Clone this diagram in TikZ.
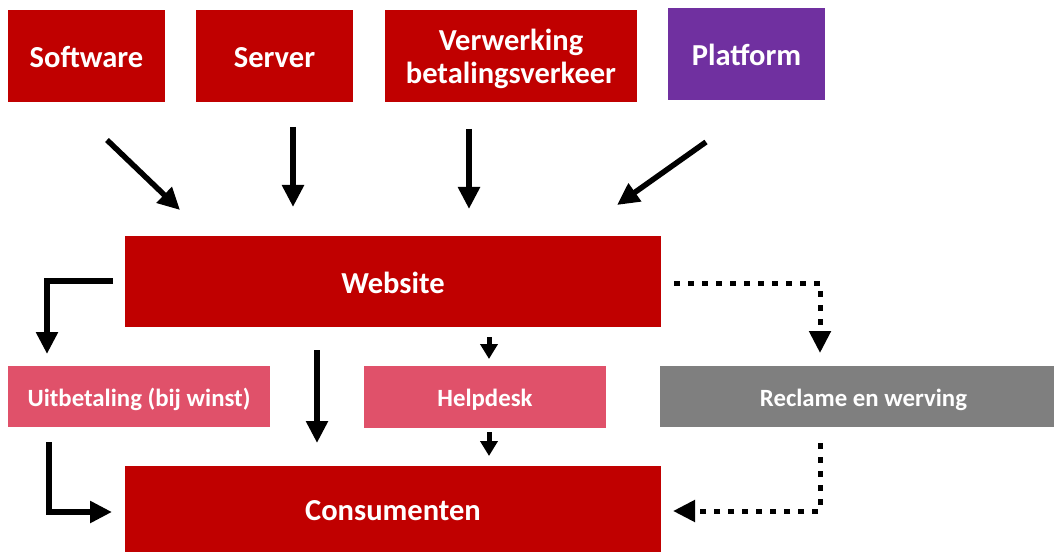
\documentclass[tikz,border=0pt]{standalone}
\usepackage{fontspec}
\setmainfont{Carlito}
\usetikzlibrary{arrows.meta}
\definecolor{dred}{HTML}{C00000}
\definecolor{pinkr}{HTML}{E0516A}
\definecolor{greyb}{HTML}{7F7F7F}
\definecolor{purp}{HTML}{7030A0}
\tikzset{
  box/.style={rectangle, inner sep=0pt, text=white, font=\bfseries\fontsize{30.5}{32.5}\selectfont, text height=23.8pt, text depth=0pt},
  sbox/.style={rectangle, inner sep=0pt, text=white, font=\bfseries\fontsize{24.8}{29}\selectfont, text height=19.6pt, text depth=0pt},
  arr/.style={line width=5.5pt, -{Triangle[length=22pt,width=21pt]}},
  sarr/.style={line width=5pt, -{Triangle[length=15pt,width=17pt]}},
  darr/.style={line width=5pt, dash pattern=on 6pt off 8pt, -{Triangle[length=22pt,width=21pt]}},
}
\begin{document}
\begin{tikzpicture}[x=1pt,y=-1pt]
\useasboundingbox (0,0) rectangle (1054,553);
\clip (0,0) rectangle (1054,553);
% top row
\node[box, fill=dred, minimum width=157pt, minimum height=92pt] (soft) at (86.5,56) {Software};
\node[box, fill=dred, minimum width=157pt, minimum height=92pt] (serv) at (274.5,56) {Server};
\node[box, fill=dred, minimum width=252pt, minimum height=92pt, text height=54.9pt] (verw) at (511,56) {\begin{tabular}[b]{@{}c@{}}Verwerking\\betalingsverkeer\end{tabular}};
\node[box, fill=purp, minimum width=157pt, minimum height=92pt] (plat) at (746.5,54) {Platform};
% website
\node[box, fill=dred, minimum width=536pt, minimum height=91pt] (web) at (393,281.5) {Website};
% middle row
\node[sbox, fill=pinkr, minimum width=262pt, minimum height=61pt] (uit) at (139,396.5) {Uitbetaling (bij winst)};
\node[sbox, fill=pinkr, minimum width=242pt, minimum height=62pt] (help) at (485,397) {Helpdesk};
\node[sbox, fill=greyb, minimum width=407pt, minimum height=61pt] (recl) at (863.5,396.5) {Reclame en werving};
% consumenten
\node[box, fill=dred, minimum width=536pt, minimum height=86pt] (cons) at (393,509) {Consumenten};
% connector end points
\coordinate (a1s) at (107,140); \coordinate (a1e) at (180,210);
\coordinate (a2s) at (293,127); \coordinate (a2e) at (293,207);
\coordinate (a3s) at (469,129); \coordinate (a3e) at (469,209);
\coordinate (a4s) at (706,142); \coordinate (a4e) at (617,205);
\coordinate (b1s) at (113,281); \coordinate (b1c) at (47,281); \coordinate (b1e) at (47,354);
\coordinate (b2s) at (317,350); \coordinate (b2e) at (317,443);
\coordinate (b3s) at (489,337); \coordinate (b3e) at (489,359);
\coordinate (b4s) at (489,432); \coordinate (b4e) at (489,456);
\coordinate (b5s) at (49,442); \coordinate (b5c) at (49,512); \coordinate (b5e) at (112,512);
\coordinate (d1s) at (674,283); \coordinate (d1c) at (820,283); \coordinate (d1e) at (820,353);
\coordinate (d2s) at (820,443); \coordinate (d2c) at (820,511); \coordinate (d2e) at (673,511);
% arrows
\draw[arr] (a1s) -- (a1e);
\draw[arr] (a2s) -- (a2e);
\draw[arr] (a3s) -- (a3e);
\draw[arr] (a4s) -- (a4e);
\draw[arr] (b1s) -- (b1c) -- (b1e);
\draw[arr] (b2s) -- (b2e);
\draw[sarr] (b3s) -- (b3e);
\draw[sarr] (b4s) -- (b4e);
\draw[arr] (b5s) -- (b5c) -- (b5e);
\draw[darr] (d1s) -- (d1c) -- (d1e);
\draw[darr] (d2s) -- (d2c) -- (d2e);
\end{tikzpicture}
\end{document}
